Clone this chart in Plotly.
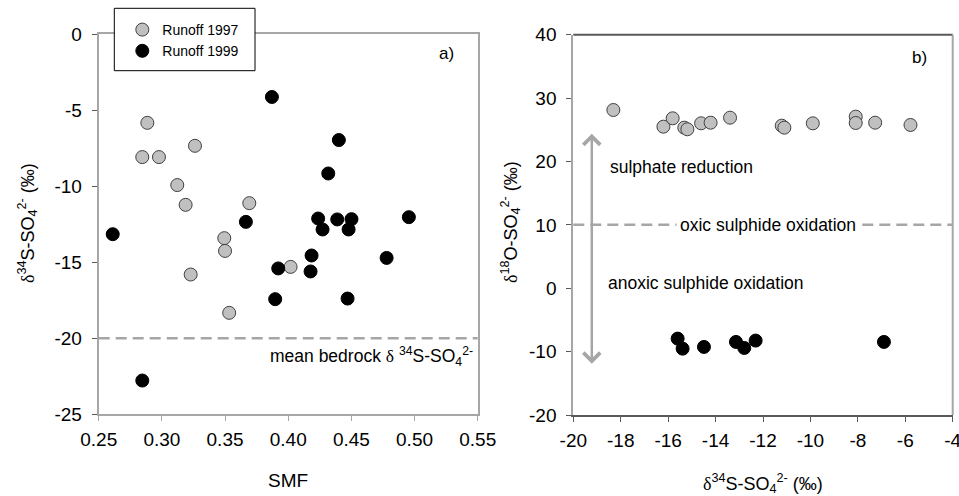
import plotly.graph_objects as go

# ---------------- data ----------------
smf_1997 = [0.2885, 0.2845, 0.2977, 0.3262, 0.3122, 0.3188, 0.3692, 0.3494, 0.3500, 0.3228, 0.4019, 0.3533]
d34s_1997 = [-5.84, -8.09, -8.09, -7.35, -9.93, -11.23, -11.12, -13.42, -14.26, -15.81, -15.31, -18.33]

smf_1999 = [0.3871, 0.4401, 0.4317, 0.4955, 0.4237, 0.4388, 0.4501, 0.4272, 0.4478, 0.3665, 0.2611,
            0.4185, 0.4779, 0.3921, 0.4177, 0.3897, 0.4470, 0.2845]
d34s_1999 = [-4.14, -6.97, -9.17, -12.04, -12.13, -12.19, -12.17, -12.85, -12.85, -12.35, -13.16,
             -14.56, -14.72, -15.41, -15.61, -17.43, -17.39, -22.78]

b_d34s_1997 = [-18.31, -16.20, -15.81, -15.32, -15.19, -14.61, -14.21, -13.39, -11.21, -11.10, -9.90,
               -8.09, -8.09, -7.27, -5.78]
b_d18o_1997 = [28.12, 25.49, 26.81, 25.33, 25.08, 26.02, 26.12, 26.91, 25.65, 25.33, 26.02,
               27.07, 26.07, 26.12, 25.76]

b_d34s_1999 = [-15.60, -15.39, -14.49, -13.14, -12.79, -12.31, -6.90]
b_d18o_1999 = [-7.95, -9.53, -9.26, -8.47, -9.42, -8.26, -8.47]

bedrock_d34s = -20
oxic_d18o = 10

xa_ticks = [0.25, 0.30, 0.35, 0.40, 0.45, 0.50, 0.55]
ya_ticks = [0, -5, -10, -15, -20, -25]
xb_ticks = [-20, -18, -16, -14, -12, -10, -8, -6, -4]
yb_ticks = [40, 30, 20, 10, 0, -10, -20]

xa_labels = [f"{v:.2f}" for v in xa_ticks]
ya_labels = [str(v) for v in ya_ticks]
xb_labels = [str(v) for v in xb_ticks]
yb_labels = [str(v) for v in yb_ticks]

# ---------------- style ----------------
FONT = "Liberation Sans, Arial, sans-serif"
SERIF = "Liberation Serif, Times New Roman, serif"
LGRAY = "#a6a6a6"
DGRAY = "#595959"
FILL97 = "#c0c0c0"
DELTA = f"<span style='font-family:{SERIF}'>δ</span>"

fig = go.Figure()

m97 = dict(size=13, color=FILL97, line=dict(color="#404040", width=1))
m99 = dict(size=13, color="black", line=dict(color="black", width=1))

fig.add_trace(go.Scatter(x=smf_1997, y=d34s_1997, mode="markers", marker=m97,
                         name="Runoff 1997", xaxis="x", yaxis="y"))
fig.add_trace(go.Scatter(x=smf_1999, y=d34s_1999, mode="markers", marker=m99,
                         name="Runoff 1999", xaxis="x", yaxis="y"))
fig.add_trace(go.Scatter(x=b_d34s_1997, y=b_d18o_1997, mode="markers", marker=m97,
                         showlegend=False, xaxis="x2", yaxis="y2"))
fig.add_trace(go.Scatter(x=b_d34s_1999, y=b_d18o_1999, mode="markers", marker=m99,
                         showlegend=False, xaxis="x2", yaxis="y2"))

W, H = 959, 496
ax_common = dict(showgrid=False, zeroline=False, ticks="outside", ticklen=5, tickwidth=1,
                 tickfont=dict(size=19, color="black", family=FONT), automargin=False,
                 ticklabeloverflow="allow")

fig.update_layout(
    width=W, height=H,
    margin=dict(l=0, r=0, t=0, b=0),
    paper_bgcolor="white", plot_bgcolor="white",
    font=dict(family=FONT, color="black"),
    xaxis=dict(domain=[98.7 / W, 477.7 / W], range=[0.25, 0.55], tickvals=xa_ticks,
               ticktext=xa_labels, anchor="y", showline=True, linecolor=LGRAY, linewidth=2,
               mirror=True, tickcolor=LGRAY, ticklabelstandoff=2, **ax_common),
    yaxis=dict(domain=[1 - 414.3 / H, 1 - 34 / H], range=[-25, 0], tickvals=ya_ticks,
               ticktext=ya_labels, anchor="x", showline=True, linecolor=LGRAY, linewidth=2,
               mirror=True, tickcolor=DGRAY, ticklabelstandoff=6, **ax_common),
    xaxis2=dict(domain=[573.3 / W, 952.7 / W], range=[-20, -4], tickvals=xb_ticks,
                ticktext=xb_labels, anchor="y2", showline=True, linecolor=DGRAY, linewidth=2,
                tickcolor=DGRAY, ticklabelstandoff=2, **ax_common),
    yaxis2=dict(domain=[1 - 415 / H, 1 - 34.7 / H], range=[-20, 40], tickvals=yb_ticks,
                ticktext=yb_labels, anchor="x2", showline=True, linecolor=LGRAY, linewidth=2,
                tickcolor=DGRAY, ticklabelstandoff=6, **ax_common),
    showlegend=True,
    legend=dict(x=114.3 / W, y=1 - 14 / H, xanchor="left", yanchor="top",
                bgcolor="rgba(0,0,0,0)", borderwidth=0,
                font=dict(size=14, family=FONT, color="black"), indentation=8,
                itemsizing="trace"),
)

# legend frame
fig.add_shape(type="rect", xref="paper", yref="paper", layer="above",
              x0=114.3 / W, x1=255 / W, y0=1 - 70.7 / H, y1=1 - 8.3 / H,
              line=dict(color="black", width=1), fillcolor="white")

# frame lines for panel b (top dark, right light)
fig.add_shape(type="line", xref="x2 domain", yref="y2 domain", x0=0, x1=1, y0=1, y1=1,
              line=dict(color=DGRAY, width=2))
fig.add_shape(type="line", xref="x2 domain", yref="y2 domain", x0=1, x1=1, y0=0, y1=1,
              line=dict(color=LGRAY, width=2))

# dashed reference lines
fig.add_shape(type="line", xref="x domain", yref="y", x0=0, x1=1, y0=bedrock_d34s, y1=bedrock_d34s,
              line=dict(color=LGRAY, width=2.5, dash="11px,6px"))
fig.add_shape(type="line", xref="x2 domain", yref="y2", x0=0, x1=1, y0=oxic_d18o, y1=oxic_d18o,
              line=dict(color=LGRAY, width=2.5, dash="11px,6px"))

ann = []
# panel labels
ann.append(dict(x=0.5253, y=-1.27, xref="x", yref="y", text="a)", showarrow=False,
                font=dict(size=17)))
ann.append(dict(x=-5.38, y=36.4, xref="x2", yref="y2", text="b)", showarrow=False,
                font=dict(size=17)))
# bedrock label
ann.append(dict(x=0.3837, y=-21.23, xref="x", yref="y", xanchor="left",
                text=f"mean bedrock {DELTA} <sup>34</sup>S-SO<sub>4</sub><sup>2-</sup>",
                showarrow=False, font=dict(size=17.5)))
# panel b labels
ann.append(dict(x=-18.52, y=19.18, xref="x2", yref="y2", xanchor="left",
                text="sulphate reduction", showarrow=False, font=dict(size=17.5)))
ann.append(dict(x=-11.79, y=oxic_d18o, xref="x2", yref="y2",
                text="oxic sulphide oxidation", showarrow=False, font=dict(size=17.5),
                bgcolor="white", borderpad=3))
ann.append(dict(x=-18.62, y=0.79, xref="x2", yref="y2", xanchor="left",
                text="anoxic sulphide oxidation", showarrow=False, font=dict(size=17.5)))
# double-headed arrow
ann.append(dict(x=-19.22, y=-11.9, ax=-19.22, ay=24.6, xref="x2", yref="y2",
                axref="x2", ayref="y2", text="", showarrow=True,
                arrowhead=4, startarrowhead=4, arrowside="end+start",
                arrowcolor=LGRAY, arrowwidth=2.5, arrowsize=1.3, startarrowsize=1.3))
# axis titles
ann.append(dict(x=288 / W, y=1 - 480 / H, xref="paper", yref="paper", text="SMF",
                xanchor="center", yanchor="middle", showarrow=False, font=dict(size=19)))
ann.append(dict(x=763 / W, y=1 - 483 / H, xref="paper", yref="paper",
                text=f"{DELTA}<sup>34</sup>S-SO<sub>4</sub><sup>2-</sup> (‰)",
                xanchor="center", yanchor="middle", showarrow=False, font=dict(size=18)))
ann.append(dict(x=27 / W, y=1 - 223 / H, xref="paper", yref="paper", textangle=-90,
                text=f"{DELTA}<sup>34</sup>S-SO<sub>4</sub><sup>2-</sup> (‰)",
                xanchor="center", yanchor="middle", showarrow=False, font=dict(size=18)))
ann.append(dict(x=511 / W, y=1 - 222 / H, xref="paper", yref="paper", textangle=-90,
                text=f"{DELTA}<sup>18</sup>O-SO<sub>4</sub><sup>2-</sup> (‰)",
                xanchor="center", yanchor="middle", showarrow=False, font=dict(size=18)))
fig.update_layout(annotations=ann)

fig.write_html("out.html", config={"displayModeBar": False},
               post_script="document.body.style.margin='0';document.body.style.overflow='hidden';")
